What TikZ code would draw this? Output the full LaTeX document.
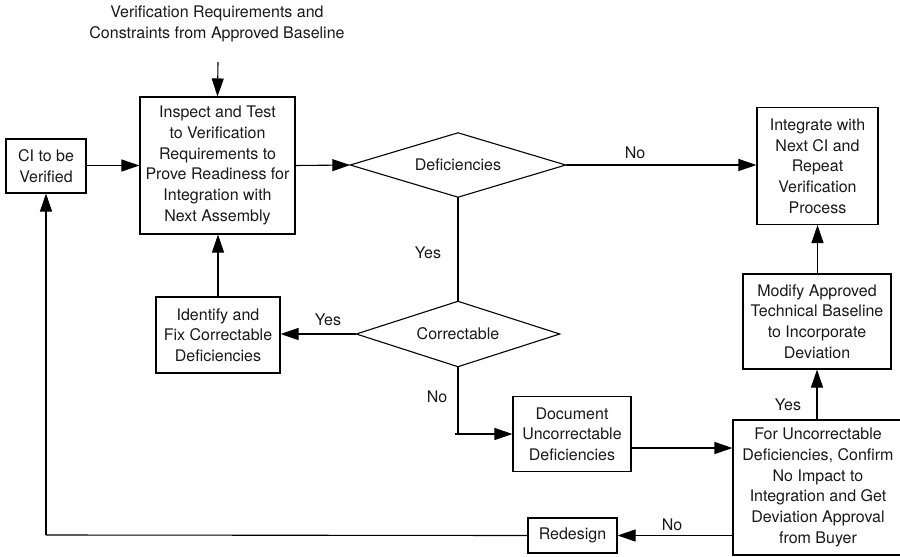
\documentclass[tikz,border=0pt]{standalone}
\usepackage{fontspec}
\setmainfont{TeX Gyre Heros}
\usetikzlibrary{arrows.meta,calc}
\begin{document}
\begin{tikzpicture}[x=1pt,y=-1pt,
  every node/.style={font=\fontsize{16}{20.7}\selectfont, align=center, text=black!90},
  box/.style={draw, line width=1.1pt, inner sep=0pt},
  decision/.style={inner sep=0pt},
  flow/.style={line width=1.1pt},
  arr/.style={flow, -{Triangle[length=18pt,width=12pt]}},
  lbl/.style={inner sep=0pt}]
\useasboundingbox (0,0) rectangle (900,557);

% input requirements
\node[lbl] (req) at (217,24) {Verification Requirements and\\Constraints from Approved Baseline};
\coordinate (reqin) at (218,62);

% process boxes
\node[box, minimum width=80pt, minimum height=54pt] (ci) at (46,166) {CI to be\\Verified};
\node[box, minimum width=155pt, minimum height=137pt] (main) at (217.5,165.5)
  {Inspect and Test\\to Verification\\Requirements to\\Prove Readiness for\\Integration with\\Next Assembly};
\node[box, minimum width=121pt, minimum height=117pt] (integ) at (817.5,166)
  {Integrate with\\Next CI and\\Repeat\\Verification\\Process};
\node[box, minimum width=148pt, minimum height=95pt] (modify) at (817,321.5)
  {Modify Approved\\Technical Baseline\\to Incorporate\\Deviation};
\node[box, minimum width=124pt, minimum height=76pt] (ident) at (218,335)
  {Identify and\\Fix Correctable\\Deficiencies};
\node[box, minimum width=118pt, minimum height=75pt] (doc) at (572,434)
  {Document\\Uncorrectable\\Deficiencies};
\node[box, minimum width=170pt, minimum height=135pt] (forbox) at (818,487.5)
  {For Uncorrectable\\Deficiencies, Confirm\\No Impact to\\Integration and Get\\Deviation Approval\\from Buyer};
\node[box, minimum width=89pt, minimum height=35pt] (redesign) at (572.5,535.5) {Redesign};

% decisions: rhombus through the side midpoints of the node's frame
\node[decision, minimum width=215pt, minimum height=64pt] (defic) at (458,165) {Deficiencies};
\node[decision, minimum width=203pt, minimum height=65pt] (corr) at (458,334) {Correctable};
\foreach \d in {defic,corr}
  \draw[flow, line join=miter] (\d.west) -- (\d.north) -- (\d.east) -- (\d.south) -- cycle;

% routing points
\coordinate (nobend) at (458,434);
\coordinate (back) at (46,535);

% connectors
\draw[arr] (reqin) -- (main.north);
\draw[arr] (ci.east |- main.west) -- (main.west);
\draw[arr] (main.east) -- (defic.west);
\draw[arr] (defic.east) -- (integ.west |- defic.east);
\draw[flow] (defic.south) -- (corr.north);
\draw[arr] (corr.west) -- (ident.east |- corr.west);
\draw[arr] (ident.north) -- (ident.north |- main.south);
\draw[flow] (corr.south) -- (nobend);
\draw[arr] ([xshift=-3pt]nobend) -- (doc.west |- nobend);
\draw[arr] ([yshift=-14pt]doc.east) -- ([yshift=-14pt]doc.east -| forbox.west);
\draw[arr] (modify.south |- forbox.north) -- (modify.south);
\draw[arr] (integ.south |- modify.north) -- (integ.south);
\draw[arr] (forbox.west |- redesign.east) -- (redesign.east);
\draw[flow] (redesign.west) -- (back);
\draw[arr] (back) -- (ci.south);

% branch labels
\node[lbl] (l1) at (635,153) {No};
\node[lbl] (l2) at (428,253) {Yes};
\node[lbl] (l3) at (328,320) {Yes};
\node[lbl] (l4) at (437,397) {No};
\node[lbl] (l5) at (788,405) {Yes};
\node[lbl] (l6) at (672,525) {No};
\end{tikzpicture}
\end{document}
